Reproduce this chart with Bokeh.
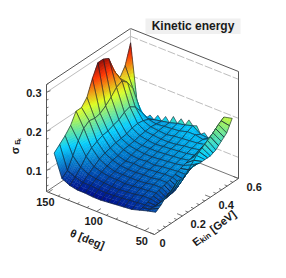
import math
from bokeh.plotting import figure
from bokeh.models import Range1d, ColumnDataSource
from bokeh.core.properties import value
from bokeh.embed import file_html
from bokeh.resources import INLINE

theta_nodes = [147.5,139.5,131.4,123.3,115.3,107.2,99.1,91.1,83.0,74.9,66.9,58.8,50.8,42.2]
energy_nodes = [.024,.063,.102,.141,.18,.219,.258,.297,.336,.375,.414,.453,.492,.531,.57]
sigma_rows = [
 [.143,.156,.169,.186,.213,.213,.230,.269,.300,.300,.292,.251,.223,.246,.295],
 [.086,.097,.125,.154,.177,.187,.184,.187,.197,.210,.226,.233,.220,.195,.122],
 [.076,.088,.104,.122,.135,.142,.148,.150,.156,.160,.170,.175,.165,.145,.118],
 [.072,.082,.094,.104,.114,.120,.124,.128,.130,.132,.138,.140,.138,.132,.122],
 [.072,.082,.090,.098,.104,.110,.112,.118,.120,.122,.126,.128,.130,.128,.126],
 [.070,.080,.088,.094,.098,.104,.106,.112,.116,.118,.122,.126,.128,.130,.130],
 [.070,.079,.086,.094,.098,.102,.108,.110,.114,.118,.120,.124,.126,.132,.136],
 [.072,.080,.086,.092,.098,.102,.106,.112,.114,.118,.122,.124,.130,.134,.140],
 [.074,.082,.088,.094,.098,.104,.108,.110,.116,.120,.124,.126,.132,.140,.146],
 [.076,.084,.090,.096,.100,.104,.110,.114,.118,.122,.126,.130,.134,.140,.132],
 [.078,.086,.094,.098,.104,.108,.112,.116,.120,.124,.128,.132,.136,.136,.130],
 [.084,.088,.094,.100,.104,.108,.112,.118,.124,.128,.132,.136,.140,.146,.140],
 [.090,.090,.090,.090,.092,.095,.105,.118,.133,.148,.158,.168,.178,.190,.200],
 [.095,.105,.120,.125,.138,.134,.146,.150,.146,.146,.146,.152,.165,.177,.205],
]
fringe_sigma = [.128,.130,.137,.142,.150,.152,.157,.150,.140,.140]
z_ticks = [.1,.2,.3]
theta_ticks = [50,100,150]
energy_ticks = [0,.2,.4,.6]

TH0, TH1 = 40.0, 152.0
E0, E1 = 0.0, 0.6
Z0, Z1 = 0.046, 0.32
FRONT = (154.0, 234.0)
UT = (-108.0, -43.0)
UE = (84.0, -56.0)
UZ = (0.0, -107.0)
ZMIN, ZMAX = 0.065, 0.305

def proj(th, e, z):
    t = (th-TH0)/(TH1-TH0); f = (e-E0)/(E1-E0); h = (z-Z0)/(Z1-Z0)
    return (FRONT[0]+UT[0]*t+UE[0]*f+UZ[0]*h, FRONT[1]+UT[1]*t+UE[1]*f+UZ[1]*h)

STOPS = [(0,(0,0,.51)),(.34,(0,.81,1)),(.61,(.87,1,.12)),(.84,(1,.2,0)),(1,(.51,0,0))]
def colour(z):
    s = max(0,min(1,(z-ZMIN)/(ZMAX-ZMIN)))
    for (a,ca),(b,cb) in zip(STOPS,STOPS[1:]):
        if s<=b:
            k=(s-a)/(b-a)
            c=[ca[i]+(cb[i]-ca[i])*k for i in range(3)]
            return "#%02x%02x%02x"%tuple(int(255*v) for v in c)
    return "#820000"

p = figure(width=270,height=262,x_range=Range1d(0,270),y_range=Range1d(262,0),
           toolbar_location=None,output_backend="svg",min_border=0)
p.axis.visible=False; p.grid.visible=False; p.outline_line_color=None

AX="#555555"; GRID="#bdbdbd"
def seg(a,b,c=AX,w=1.0,dash="solid"):
    pa,pb=proj(*a),proj(*b)
    p.line([pa[0],pb[0]],[pa[1],pb[1]],line_color=c,line_width=w,line_dash=dash)

for z in z_ticks:
    seg((TH1,E0,z),(TH1,E1,z),GRID,1)
    seg((TH1,E1,z),(TH0,E1,z),GRID,1,"8 2")
seg((TH1,E0,Z0),(TH1,E0,Z1))
seg((TH0,E1,Z0),(TH0,E1,Z1))
seg((TH1,E0,Z1),(TH1,E1,Z1))
seg((TH1,E1,Z1),(TH0,E1,Z1))
seg((TH1,E1,Z0),(TH1,E1,Z1),GRID,1)
seg((TH1,E0,Z0),(TH1,E1,Z0),"#777777",1)
seg((TH1,E1,Z0),(TH0,E1,Z0),"#777777",1)
seg((TH1,E0,Z0),(TH0,E0,Z0))
seg((TH0,E0,Z0),(TH0,E1,Z0))
zt=z_ticks[0]-.04
while zt<=Z1:
    big=any(abs(zt-v)<1e-6 for v in z_ticks)
    a=proj(TH1,E0,zt); L=4 if big else 2
    p.line([a[0],a[0]+L],[a[1],a[1]-L*.4],line_color=AX,line_width=.8)
    zt+=.02
for th in range(50,151,10):
    L=.05 if th in theta_ticks else .025
    seg((th,E0,Z0),(th,E0+L*(E1-E0),Z0),AX,.8)
for k in range(0,16):
    e=k*.04
    L=.05 if k%5==0 else .025
    seg((TH0,e,Z0),(TH0+L*(TH1-TH0),e,Z0),AX,.8)

xs,ys,fc,fa,lc,lw=[],[],[],[],[],[]
def outline(xy):
    xs.append([c[0] for c in xy]); ys.append([c[1] for c in xy])
    fc.append("#000000"); fa.append(0.0); lc.append("#14202e"); lw.append(.6)

# saw-tooth of the far edge, behind the surface
far=len(energy_nodes)-1
for i,zf in enumerate(fringe_sigma):
    a=proj(theta_nodes[i+1],energy_nodes[far],sigma_rows[i+1][far])
    b=proj(theta_nodes[i+2],energy_nodes[far],sigma_rows[i+2][far])
    tip=proj((theta_nodes[i+1]+theta_nodes[i+2])/2,energy_nodes[far],zf)
    tri=[a,tip,b]
    xs.append([c[0] for c in tri]); ys.append([c[1] for c in tri])
    fc.append(colour(zf+.01)); fa.append(1.0); lc.append("#14202e"); lw.append(.6)

cells=[(i,j) for i in range(len(theta_nodes)-1) for j in range(len(energy_nodes)-1)]
cells=sorted(cells,key=lambda c:(c[0]-c[1]))
for i,j in cells:
    th=[theta_nodes[i],theta_nodes[i+1]]; en=[energy_nodes[j],energy_nodes[j+1]]
    q=[[sigma_rows[i][j],sigma_rows[i][j+1]],[sigma_rows[i+1][j],sigma_rows[i+1][j+1]]]
    def P(u,v):
        zz=(1-u)*(1-v)*q[0][0]+(1-u)*v*q[0][1]+u*(1-v)*q[1][0]+u*v*q[1][1]
        return th[0]+(th[1]-th[0])*u,en[0]+(en[1]-en[0])*v,zz
    dz=max(map(max,q))-min(map(min,q))
    n=min(14,max(2,math.ceil(dz/.007)))
    for a in range(n):
        for b in range(n):
            pts=[P(a/n,b/n),P(a/n,(b+1)/n),P((a+1)/n,(b+1)/n),P((a+1)/n,b/n)]
            xy=[proj(*s) for s in pts]
            xs.append([c[0] for c in xy]); ys.append([c[1] for c in xy])
            col=colour(sum(s[2] for s in pts)/4)
            fc.append(col); fa.append(1.0); lc.append(col); lw.append(.35)
    # the mesh is finer in energy along the low-angle edge
    if i>=len(theta_nodes)-3:
        outline([proj(*P(0,0)),proj(*P(0,.5)),proj(*P(1,.5)),proj(*P(1,0))])
        outline([proj(*P(0,.5)),proj(*P(0,1)),proj(*P(1,1)),proj(*P(1,.5))])
    else:
        outline([proj(*P(0,0)),proj(*P(0,1)),proj(*P(1,1)),proj(*P(1,0))])
p.patches("xs","ys",source=ColumnDataSource(dict(xs=xs,ys=ys,fc=fc,fa=fa,lc=lc,lw=lw)),
          fill_color="fc",fill_alpha="fa",line_color="lc",line_width="lw")

FONT=value("Liberation Sans")
def txt(x,y,s,size=11,angle=0.0,align="center",base="middle"):
    p.text([x],[y],text=[s],text_font=FONT,text_font_size=f"{size}px",text_font_style="bold",
           text_color="#1a1a1a",angle=angle,text_align=align,text_baseline=base)

for z in z_ticks:
    a=proj(TH1,E0,z); txt(a[0]-5,a[1]+1,f"{z:.1f}",align="right")
for th in theta_ticks:
    a=proj(th,E0,Z0); txt(a[0]-3,a[1]+10,str(th))
for e in energy_ticks:
    a=proj(TH0,e,Z0); txt(a[0]+8,a[1]+8,"0" if e==0 else f"{e:.1f}",align="left" if e else "center")

p.quad(left=[145],right=[240],top=[18],bottom=[33.5],fill_color="#f0f0f0",line_color=None)
txt(192.5,25.5,"Kinetic energy",12)
txt(87,238.5,"\u03b8 [deg]",11,angle=math.radians(-22))
a=math.radians(37)
def along(d): return 193+d*math.cos(a),243-d*math.sin(a)
txt(*along(0),"E",11,angle=a,align="left")
x,y=along(7.5); txt(x+1.5,y+2.2,"kin",8,angle=a,align="left")
txt(*along(22),"[GeV]",11,angle=a,align="left")
txt(14,150,"\u03c3",11,angle=math.pi/2)
txt(17,142,"E",7,angle=math.pi/2)
txt(18.5,139,"k",5,angle=math.pi/2)

open("out.html","w").write(file_html(p,INLINE))
